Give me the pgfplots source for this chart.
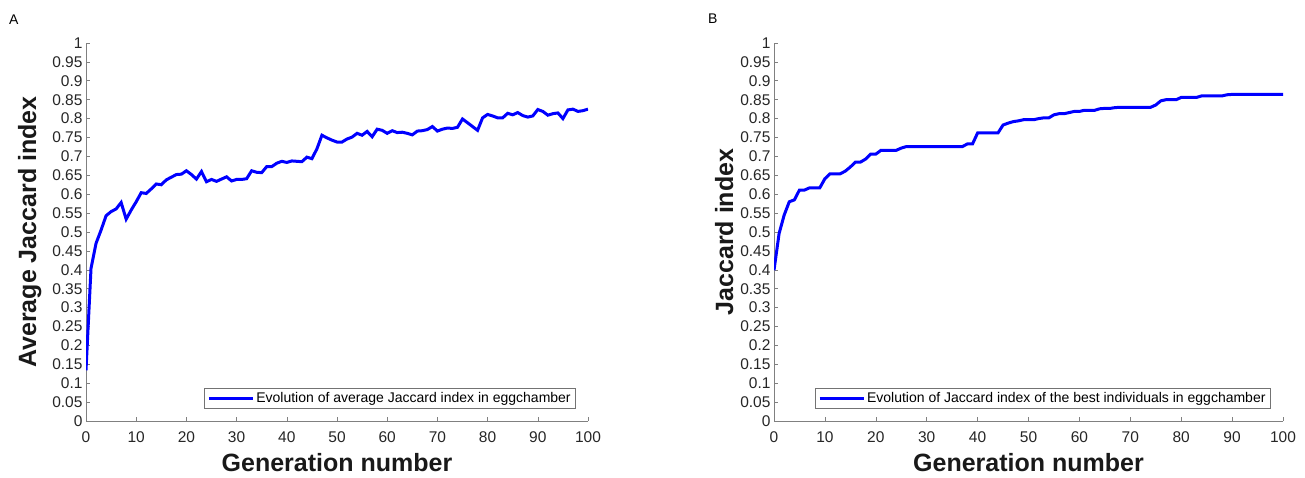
\documentclass[border=0pt]{standalone}
\usepackage{fontspec}
\setmainfont{Liberation Sans}
\usepackage{pgfplots}
\usepackage{pgfplotstable}
\pgfplotsset{compat=1.18}

% average Jaccard index per generation (panel A)
\pgfplotstableread{
g y
0 0.134
1 0.404
2 0.470
3 0.505
4 0.543
5 0.554
6 0.561
7 0.578
8 0.534
9 0.558
10 0.580
11 0.604
12 0.602
13 0.614
14 0.627
15 0.625
16 0.638
17 0.645
18 0.652
19 0.653
20 0.662
21 0.652
22 0.640
23 0.660
24 0.633
25 0.639
26 0.634
27 0.640
28 0.646
29 0.635
30 0.639
31 0.639
32 0.641
33 0.662
34 0.658
35 0.657
36 0.673
37 0.673
38 0.682
39 0.687
40 0.684
41 0.688
42 0.687
43 0.686
44 0.698
45 0.694
46 0.720
47 0.756
48 0.749
49 0.743
50 0.738
51 0.738
52 0.746
53 0.751
54 0.761
55 0.756
56 0.766
57 0.752
58 0.772
59 0.769
60 0.761
61 0.768
62 0.763
63 0.764
64 0.761
65 0.757
66 0.767
67 0.768
68 0.771
69 0.779
70 0.767
71 0.772
72 0.775
73 0.774
74 0.777
75 0.799
76 0.789
77 0.779
78 0.769
79 0.802
80 0.811
81 0.807
82 0.802
83 0.802
84 0.814
85 0.810
86 0.816
87 0.808
88 0.804
89 0.807
90 0.824
91 0.819
92 0.809
93 0.813
94 0.815
95 0.800
96 0.823
97 0.825
98 0.819
99 0.821
100 0.825
}\avgdata

% Jaccard index of the best individual per generation (panel B)
\pgfplotstableread{
g y
0 0.399
1 0.496
2 0.545
3 0.580
4 0.585
5 0.611
6 0.611
7 0.617
8 0.617
9 0.617
10 0.641
11 0.654
12 0.654
13 0.654
14 0.661
15 0.672
16 0.685
17 0.685
18 0.693
19 0.706
20 0.706
21 0.716
22 0.716
23 0.716
24 0.716
25 0.722
26 0.726
27 0.726
28 0.726
29 0.726
30 0.726
31 0.726
32 0.726
33 0.726
34 0.726
35 0.726
36 0.726
37 0.726
38 0.733
39 0.733
40 0.762
41 0.762
42 0.762
43 0.762
44 0.762
45 0.783
46 0.788
47 0.792
48 0.794
49 0.797
50 0.797
51 0.797
52 0.800
53 0.802
54 0.802
55 0.810
56 0.813
57 0.813
58 0.816
59 0.819
60 0.819
61 0.822
62 0.822
63 0.822
64 0.826
65 0.827
66 0.827
67 0.829
68 0.830
69 0.830
70 0.830
71 0.830
72 0.830
73 0.830
74 0.830
75 0.836
76 0.847
77 0.850
78 0.850
79 0.850
80 0.856
81 0.856
82 0.856
83 0.856
84 0.860
85 0.860
86 0.860
87 0.860
88 0.860
89 0.863
90 0.864
91 0.864
92 0.864
93 0.864
94 0.864
95 0.864
96 0.864
97 0.864
98 0.864
99 0.864
100 0.864
}\bestdata

\pgfplotsset{
  jacc/.style={
    scale only axis,
    height=378pt,
    anchor=south west,
    xmin=0, xmax=100, ymin=0, ymax=1,
    axis lines=left,
    axis line style={-, black!50, line width=0.6pt},
    tick align=inside,
    major tick length=4pt,
    tick style={black!50, line width=0.6pt},
    xtick={0,10,20,30,40,50,60,70,80,90,100},
    ytick={0,0.05,0.1,0.15,0.2,0.25,0.3,0.35,0.4,0.45,0.5,0.55,0.6,0.65,0.7,0.75,0.8,0.85,0.9,0.95,1},
    /pgf/number format/fixed,
    /pgf/number format/precision=2,
    /pgf/number format/assume math mode=true,
    tick label style={font=\fontsize{15.5}{15.5}\selectfont, text=black!85},
    xticklabel style={yshift=-7pt},
    label style={font=\fontsize{25}{25}\selectfont\bfseries, text=black!90},
    xlabel={Generation number},
    xlabel style={yshift=-4pt},
    legend style={at={(0.976,0.034)}, anchor=south east, draw=black!55,
      line width=0.5pt, font=\fontsize{14}{14}\selectfont,
      inner xsep=3pt, inner ysep=2pt, cells={anchor=west}},
    legend image code/.code={\draw[#1] (0pt,0pt) -- (44pt,0pt);},
  },
}

\begin{document}
\begin{tikzpicture}
\path[use as bounding box] (0pt,0pt) rectangle (1305pt,477pt);

\node[anchor=base west, inner sep=0pt, font=\fontsize{14}{14}\selectfont] at (9pt,452pt) {A};
\node[anchor=base west, inner sep=0pt, font=\fontsize{14}{14}\selectfont] at (708pt,453pt) {B};

\begin{axis}[jacc, width=502pt, at={(86pt,56pt)},
    ylabel={Average Jaccard index}, ylabel style={yshift=4pt}]
  \addplot[blue, line width=3pt] table[x=g, y=y] {\avgdata};
  \addlegendentry{Evolution of average Jaccard index in eggchamber}
\end{axis}

\begin{axis}[jacc, width=509pt, at={(774pt,56pt)},
    ylabel={Jaccard index}]
  \addplot[blue, line width=3pt] table[x=g, y=y] {\bestdata};
  \addlegendentry{Evolution of Jaccard index of the best individuals in eggchamber}
\end{axis}
\end{tikzpicture}
\end{document}
